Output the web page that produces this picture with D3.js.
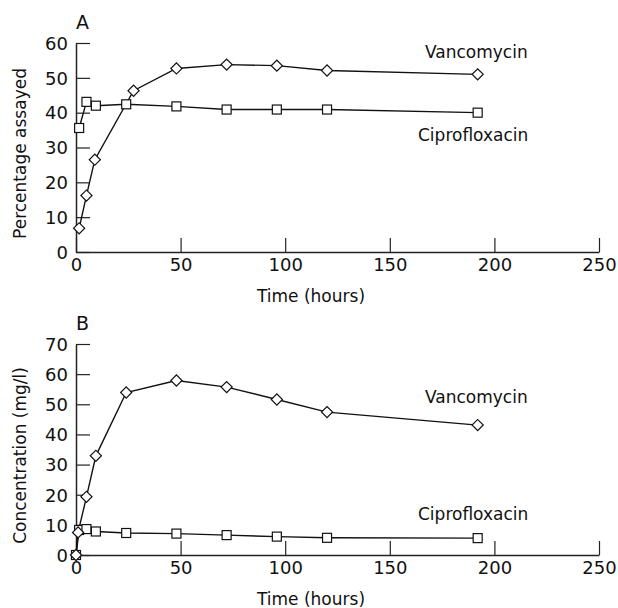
<!DOCTYPE html>
<html>
<head>
<meta charset="utf-8">
<script src="https://cdn.jsdelivr.net/npm/d3@7"></script>
<style>
  body { margin: 0; background: #fff; }
  svg text { font-family: "DejaVu Sans", sans-serif; fill: #111; }
  .axis path, .axis line { stroke: #222; }
</style>
</head>
<body>
<div id="chart"></div>
<script>
// Time points (hours)
var timeVancoA = [1.5, 5, 9, 27.5, 48, 72, 96, 120, 192];
var vancoA = [6.8, 16.2, 26.5, 46.3, 52.7, 53.8, 53.5, 52.1, 51.0];
var timeCiproA = [1.5, 5, 9.5, 24, 48, 72, 96, 120, 192];
var ciproA = [35.6, 43.1, 42.0, 42.4, 41.8, 40.9, 40.9, 40.9, 40.0];

var timeVancoB = [0, 1, 5, 9.5, 24, 48, 72, 96, 120, 192];
var vancoB = [0, 7.5, 19.3, 32.9, 53.9, 57.9, 55.7, 51.6, 47.4, 43.1];
var timeCiproB = [0, 1.5, 5, 9.5, 24, 48, 72, 96, 120, 192];
var ciproB = [0, 8.3, 8.6, 7.8, 7.3, 7.1, 6.6, 6.1, 5.7, 5.6];

var xTicks = [0, 50, 100, 150, 200, 250];
var yTicksA = [0, 10, 20, 30, 40, 50, 60];
var yTicksB = [0, 10, 20, 30, 40, 50, 60, 70];

var svgWidth = 618;
var svgHeight = 608;

var svg = d3.select("#chart")
  .append("svg")
  .attr("width", svgWidth)
  .attr("height", svgHeight);

// x scale is shared by both panels
var xScale = d3.scaleLinear().domain([0, 250]).range([76, 599]);

var panels = [
  { letter: "A", top: 43, bottom: 252, ymax: 60, yTicks: yTicksA, ytitle: "Percentage assayed",
    vanco: [timeVancoA, vancoA], cipro: [timeCiproA, ciproA],
    vLabel: [425, 58], cLabel: [418, 141] },
  { letter: "B", top: 344, bottom: 555, ymax: 70, yTicks: yTicksB, ytitle: "Concentration (mg/l)",
    vanco: [timeVancoB, vancoB], cipro: [timeCiproB, ciproB],
    vLabel: [425, 403], cLabel: [418, 520] }
];

panels.forEach(function(p) {
  var yScale = d3.scaleLinear().domain([0, p.ymax]).range([p.bottom, p.top]);
  var g = svg.append("g");

  // axes with inward ticks
  var bottomAxis = d3.axisBottom(xScale).tickValues(xTicks).tickSize(-14).tickSizeOuter(0).tickPadding(6);
  var leftAxis = d3.axisLeft(yScale).tickValues(p.yTicks).tickSize(-14).tickSizeOuter(0).tickPadding(8);

  var gx = g.append("g")
    .attr("class", "axis")
    .attr("transform", `translate(0, ${p.bottom})`)
    .call(bottomAxis);
  var gy = g.append("g")
    .attr("class", "axis")
    .attr("transform", `translate(${xScale(0)}, 0)`)
    .call(leftAxis);

  gx.select(".domain").attr("stroke-width", 1.5);
  gy.select(".domain").attr("stroke-width", 1.5);
  gx.selectAll(".tick line").attr("stroke", "#555").attr("stroke-width", 1.2);
  gy.selectAll(".tick line").attr("stroke", "#555").attr("stroke-width", 1.2);
  gx.selectAll("text").style("font-size", "18px").attr("fill", "#111");
  gy.selectAll("text").style("font-size", "18px").attr("fill", "#111").attr("dy", "0.35em");

  // panel letter
  g.append("text")
    .attr("x", 76)
    .attr("y", p.top - 14)
    .style("font-size", "19px")
    .text(p.letter);

  // axis titles
  g.append("text")
    .attr("x", 311)
    .attr("y", p.bottom + 50)
    .style("font-size", "17px")
    .style("text-anchor", "middle")
    .text("Time (hours)");

  g.append("text")
    .attr("transform", `translate(26, ${(p.top + p.bottom) / 2 + 6}) rotate(-90)`)
    .style("font-size", "17px")
    .style("text-anchor", "middle")
    .text(p.ytitle);

  var line = d3.line()
    .x(d => xScale(d[0]))
    .y(d => yScale(d[1]));

  var ciproPts = d3.zip(p.cipro[0], p.cipro[1]);
  var vancoPts = d3.zip(p.vanco[0], p.vanco[1]);

  g.append("path")
    .datum(ciproPts)
    .attr("d", line)
    .attr("fill", "none")
    .attr("stroke", "#111")
    .attr("stroke-width", 1.4);

  g.append("path")
    .datum(vancoPts)
    .attr("d", line)
    .attr("fill", "none")
    .attr("stroke", "#111")
    .attr("stroke-width", 1.4);

  // square markers
  g.selectAll(".sq")
    .data(ciproPts)
    .enter()
    .append("rect")
    .attr("x", d => xScale(d[0]) - 4.5)
    .attr("y", d => yScale(d[1]) - 4.5)
    .attr("width", 9)
    .attr("height", 9)
    .attr("fill", "white")
    .attr("stroke", "#111")
    .attr("stroke-width", 1.2);

  // diamond markers
  var diamond = d3.symbol().type(d3.symbolSquare).size(62);
  g.selectAll(".dm")
    .data(vancoPts)
    .enter()
    .append("path")
    .attr("d", diamond)
    .attr("transform", d => `translate(${xScale(d[0])}, ${yScale(d[1])}) rotate(45)`)
    .attr("fill", "white")
    .attr("stroke", "#111")
    .attr("stroke-width", 1.2);

  // series labels
  g.append("text")
    .attr("x", p.vLabel[0])
    .attr("y", p.vLabel[1])
    .style("font-size", "17px")
    .text("Vancomycin");

  g.append("text")
    .attr("x", p.cLabel[0])
    .attr("y", p.cLabel[1])
    .style("font-size", "17px")
    .text("Ciprofloxacin");
});
</script>
</body>
</html>
